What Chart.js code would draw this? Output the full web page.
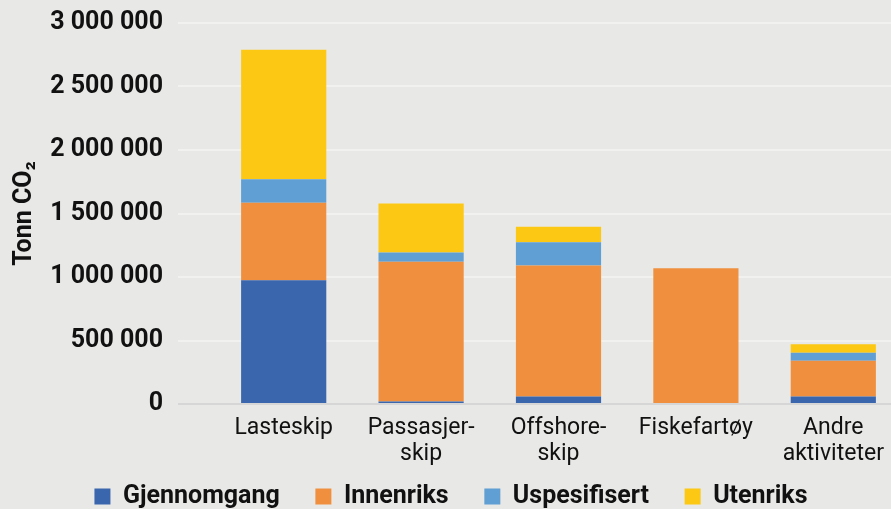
<!DOCTYPE html>
<html>
<head>
<meta charset="utf-8">
<script src="https://cdn.jsdelivr.net/npm/chart.js@4.4.0/dist/chart.umd.min.js"></script>
<style>
  html, body { margin:0; padding:0; background:#e8e8e6; overflow:hidden; }
  #outer { width:891px; height:509px; overflow:hidden; }
  canvas { display:block; }
</style>
</head>
<body>
<div id="outer"><canvas id="chart" width="910" height="509"></canvas></div>
<script>
// data (tonn CO2)
const categories = ['Lasteskip', ['Passasjer-','skip'], ['Offshore-','skip'], 'Fiskefartøy', ['Andre','aktiviteter']];
const gjennomgang  = [975000,   20000,   60000,       0,  60000];
const innenriks    = [610000, 1100000, 1030000, 1068000, 280000];
const uspesifisert = [184000,   73000,  184000,       0,  63000];
const utenriks     = [1021000, 386000,  121000,       0,  68000];
const yTicks = [0, 500000, 1000000, 1500000, 2000000, 2500000, 3000000];

const FONT = 'Roboto, "Liberation Sans", sans-serif';

function fmt(v) {
  return String(v).replace(/\B(?=(\d{3})+(?!\d))/g, ' ');
}

const ds = (label, data, color) => ({
  label, data, backgroundColor: color, borderWidth: 0,
  barPercentage: 0.62, categoryPercentage: 1
});

new Chart(document.getElementById('chart'), {
  type: 'bar',
  data: {
    labels: categories,
    datasets: [
      ds('Gjennomgang', gjennomgang, '#3a66ae'),
      ds('Innenriks', innenriks, '#f0903e'),
      ds('Uspesifisert', uspesifisert, '#5f9fd4'),
      ds('Utenriks', utenriks, '#fdc813')
    ]
  },
  options: {
    responsive: false,
    animation: false,
    layout: { padding: { top: 23, right: 8, left: 0, bottom: 0 } },
    plugins: {
      tooltip: { enabled: false },
      legend: {
        position: 'bottom',
        maxHeight: 42,
        labels: {
          boxWidth: 16, boxHeight: 16, padding: 17,
          color: '#111',
          font: { family: FONT, size: 25, weight: 'bold', lineHeight: 1 },
          // a bit of extra space between the items, like the original
          generateLabels: chart => Chart.defaults.plugins.legend.labels.generateLabels(chart)
            .map((it, i, all) => ({ ...it, text: i < all.length - 1 ? it.text + '\u00a0\u00a0\u00a0' : it.text }))
        }
      }
    },
    scales: {
      x: {
        stacked: true,
        border: { display: false },
        grid: { display: false, drawTicks: false },
        afterFit: s => { s.height = 63; },
        ticks: {
          color: '#111', padding: 11, maxRotation: 0, autoSkip: false,
          font: { family: FONT, size: 23, lineHeight: 1.15 }
        }
      },
      y: {
        stacked: true,
        min: 0, max: 3000000,
        border: { display: false },
        afterBuildTicks: s => { s.ticks = yTicks.map(v => ({ value: v })); },
        afterFit: s => { s.width = 215; s.paddingTop = 0; s.paddingBottom = 0; },
        grid: {
          tickLength: 37,
          color: c => c.tick && c.tick.value === 0 ? '#d6d6d6' : '#f1f1ef',
          lineWidth: 2
        },
        ticks: {
          color: '#111', padding: 15,
          font: { family: FONT, size: 25, weight: 'bold' },
          callback: v => fmt(v)
        },
        title: {
          display: true, text: 'Tonn CO₂', color: '#111', padding: { top: 10, bottom: 0 },
          font: { family: FONT, size: 25, weight: 'bold' }
        }
      }
    }
  }
});
</script>
</body>
</html>
